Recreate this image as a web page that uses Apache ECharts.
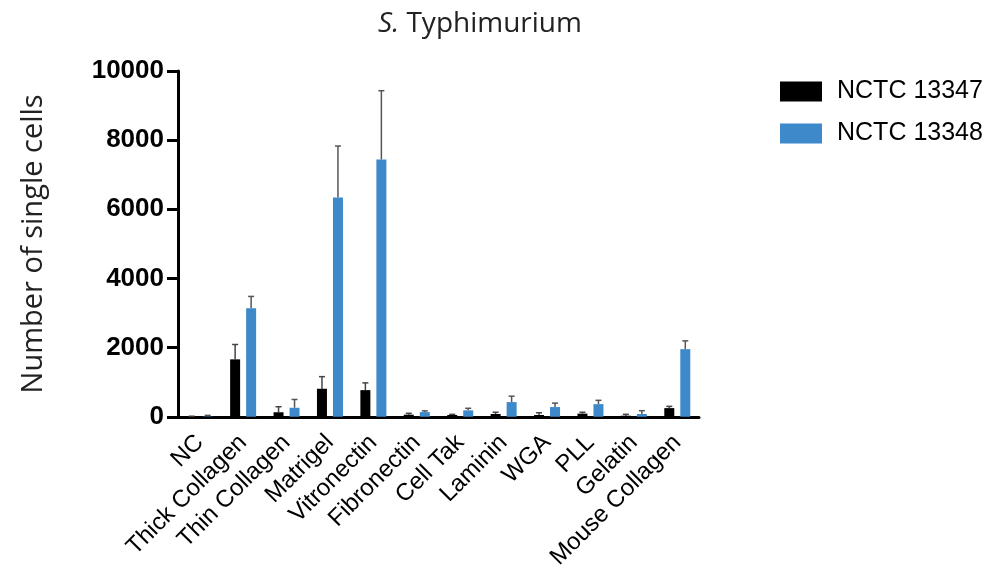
<!DOCTYPE html>
<html>
<head>
<meta charset="utf-8">
<script src="https://cdn.jsdelivr.net/npm/echarts@6/dist/echarts.min.js"></script>
<style>html,body{margin:0;padding:0;background:#fff}#c{width:988px;height:572px}</style>
</head>
<body>
<div id="c"></div>
<script>
const categories = ['NC','Thick Collagen','Thin Collagen','Matrigel','Vitronectin','Fibronectin','Cell Tak','Laminin','WGA','PLL','Gelatin','Mouse Collagen'];
const seriesNames = ['NCTC 13347','NCTC 13348'];
const values13347 = [5, 1660, 130, 810, 770, 60, 50, 80, 50, 90, 30, 250];
const errors13347 = [10, 430, 160, 350, 210, 40, 20, 50, 65, 40, 40, 50];
const values13348 = [10, 3140, 260, 6340, 7440, 135, 185, 425, 280, 365, 80, 1955];
const errors13348 = [30, 340, 240, 1490, 1990, 35, 60, 170, 115, 110, 95, 240];
const yTicks = [0, 2000, 4000, 6000, 8000, 10000];

const chart = echarts.init(document.getElementById('c'), null, {renderer: 'canvas'});

function errSeries(vals, errs, offset, color) {
  return {
    type: 'custom',
    z: 1,
    silent: true,
    data: vals.map((v, i) => [i, v, v + errs[i]]),
    renderItem: function (params, api) {
      const base = api.coord([api.value(0), api.value(1)]);
      const top = api.coord([api.value(0), api.value(2)]);
      const x = base[0] + offset;
      return {
        type: 'group',
        children: [
          {type: 'line', shape: {x1: x, y1: base[1], x2: x, y2: top[1]}, style: {stroke: color, lineWidth: 1.5}},
          {type: 'line', shape: {x1: x - 3, y1: top[1], x2: x + 3, y2: top[1]}, style: {stroke: color, lineWidth: 1.5}}
        ]
      };
    }
  };
}

chart.setOption({
  animation: false,
  title: {
    text: '{i|S.} Typhimurium',
    left: 475,
    textAlign: 'center',
    top: 5,
    textStyle: {
      fontFamily: 'Open Sans',
      fontWeight: 'normal',
      fontSize: 28,
      color: '#222',
      rich: {i: {fontFamily: 'Open Sans', fontStyle: 'italic', fontSize: 28, color: '#222'}}
    }
  },
  legend: {
    data: seriesNames,
    orient: 'vertical',
    left: 775,
    top: 74,
    itemWidth: 42,
    itemHeight: 20,
    itemGap: 17,
    icon: 'rect',
    textStyle: {fontFamily: 'Liberation Sans', fontSize: 25, color: '#000', padding: [0, 0, 0, 10]}
  },
  grid: {left: 178, right: 289, top: 71, bottom: 155, containLabel: false},
  xAxis: {
    type: 'category',
    data: categories,
    axisLine: {lineStyle: {color: '#000', width: 3}},
    axisTick: {alignWithLabel: true, length: 11, lineStyle: {color: '#000', width: 3}},
    axisLabel: {rotate: 45, interval: 0, margin: 22, fontFamily: 'Liberation Sans', fontSize: 24, color: '#000'}
  },
  yAxis: {
    type: 'value',
    min: 0,
    max: 10000,
    interval: 2000,
    name: 'Number of single cells',
    nameLocation: 'middle',
    nameGap: 130,
    nameRotate: 90,
    nameTextStyle: {fontFamily: 'Open Sans', fontSize: 29, color: '#222'},
    axisLine: {show: true, lineStyle: {color: '#000', width: 3}},
    axisTick: {show: true, length: 11, lineStyle: {color: '#000', width: 3}},
    splitLine: {show: false},
    axisLabel: {
      margin: 14,
      fontFamily: 'Liberation Sans',
      fontWeight: 'bold',
      fontSize: 26,
      color: '#000',
      formatter: function (v) { return yTicks.indexOf(v) >= 0 ? String(v) : ''; }
    }
  },
  series: [
    {name: seriesNames[0], type: 'bar', data: values13347, barWidth: 10, barGap: '60%', itemStyle: {color: '#000'}, z: 2},
    {name: seriesNames[1], type: 'bar', data: values13348, barWidth: 10, itemStyle: {color: '#3d89c9'}, z: 2},
    errSeries(values13347, errors13347, -8, '#444'),
    errSeries(values13348, errors13348, 8, '#555')
  ]
});
</script>
</body>
</html>
